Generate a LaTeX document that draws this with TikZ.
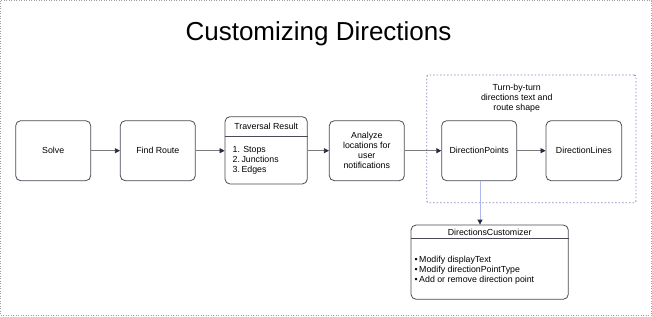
\documentclass[tikz,border=0pt]{standalone}
\usepackage{fontspec}
\setmainfont{Liberation Sans}
\usetikzlibrary{arrows.meta,calc}
\definecolor{boxline}{HTML}{4A4A55}
\definecolor{arrline}{HTML}{7A7A7A}
\definecolor{headcol}{HTML}{2A2A40}
\definecolor{grpcol}{HTML}{8585B8}
\definecolor{bluearr}{HTML}{AEB8EE}
\definecolor{framecol}{HTML}{A0A0A8}
\tikzset{
  stepbox/.style={draw=boxline, line width=0.8pt, rounded corners=5pt, fill=white,
    minimum width=75pt, minimum height=60pt, inner sep=0pt, align=center,
    font=\fontsize{8.8}{10}\selectfont},
  txt/.style={inner sep=0pt, font=\fontsize{8.8}{10}\selectfont},
  flow/.style={draw=arrline, line width=0.7pt, -{Triangle[length=5pt,width=5pt,color=headcol]}},
  grp/.style={draw=grpcol, line width=0.9pt, dash pattern=on 1.5pt off 2pt, rounded corners=2pt},
}
\begin{document}
\begin{tikzpicture}[x=1pt,y=-1pt]
\useasboundingbox (0,0) rectangle (652,316);
\draw[framecol, line width=0.8pt, dash pattern=on 1pt off 1.5pt] (0.5,0.5) rectangle (651.5,315.5);

\node[inner sep=0pt, font=\fontsize{26}{30}\selectfont, anchor=base] (title) at (318.5,40) {Customizing Directions};

% group
\node[grp, minimum width=209.3pt, minimum height=127.7pt, inner sep=0pt] (group) at (531.35,138.85) {};
\node[txt, align=center] (glabel) at (516.7,98.3) {Turn-by-turn\\directions text and\\route shape};

\node[stepbox] (solve) at (53.2,150.7) {Solve};
\node[stepbox] (find) at (157.8,150.7) {Find Route};
\node[stepbox, minimum width=82.3pt, minimum height=67.3pt] (trav) at (266.15,150.35) {};
\draw[boxline, line width=0.8pt] (trav.west |- 0,136.7) coordinate (tdl) -- (trav.east |- 0,136.7) coordinate (tdr);
\node[txt] (travtitle) at (266.2,126.7) {Traversal Result};
\node[txt, align=left, anchor=north west] (travlist) at (232.5,145.8) {1. Stops\\2.\,Junctions\\3.\,Edges};
\node[stepbox] (analyze) at (366.8,150.7) {Analyze\\locations for\\user\\notifications};
\node[stepbox] (dpoints) at (479.2,150.7) {DirectionPoints};
\node[stepbox, minimum width=75.7pt] (dlines) at (583.85,150.7) {DirectionLines};

\node[stepbox, minimum width=157.3pt, minimum height=74.3pt] (cust) at (489.65,262.15) {};
\draw[boxline, line width=0.8pt] (cust.west |- 0,238.3) -- (cust.east |- 0,238.3);
\node[txt] (custtitle) at (489.65,232.7) {DirectionsCustomizer};
\node[txt, align=left, anchor=north west] (custlist) at (414.5,256) {•\,Modify displayText\\•\,Modify directionPointType\\•\,Add or remove direction point};

\draw[flow] (solve) -- (find);
\draw[flow] (find) -- (trav.west |- find);
\draw[flow] (trav.east |- analyze) -- (analyze);
\draw[flow] (analyze) -- (dpoints);
\draw[flow] (dpoints) -- (dlines);
\draw[draw=bluearr, line width=0.8pt, -{Triangle[length=5pt,width=5pt,color=headcol]}] (dpoints.south -| 480,0) -- (cust.north -| 480,0);
\end{tikzpicture}
\end{document}
